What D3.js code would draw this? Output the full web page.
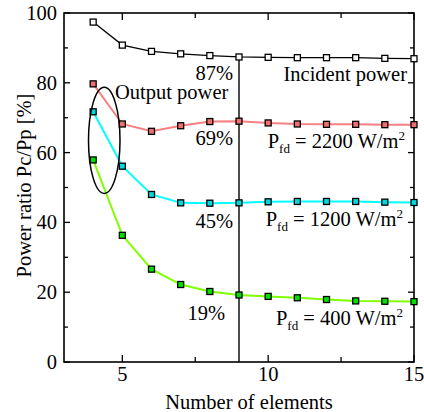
<!DOCTYPE html>
<html>
<head>
<meta charset="utf-8">
<script src="https://cdn.jsdelivr.net/npm/d3@7"></script>
<style>
body{margin:0;background:#fff;}
svg text{font-family:"Liberation Serif","Times New Roman",serif;fill:#000;}
</style>
</head>
<body>
<div id="chart"></div>
<script>
// number of elements
var elements=[4,5,6,7,8,9,10,11,12,13,14,15];
// power ratio Pc/Pp [%]
var incident=[97.4,90.8,89.0,88.3,87.8,87.4,87.3,87.2,87.2,87.2,87.0,86.9];
var p2200=[79.7,68.2,66.1,67.7,68.9,69.0,68.5,68.2,68.1,68.1,68.0,68.0];
var p1200=[71.7,56.1,48.0,45.6,45.5,45.6,45.9,46.0,46.0,46.0,45.8,45.7];
var p400=[57.9,36.3,26.6,22.2,20.2,19.2,18.8,18.4,17.9,17.5,17.4,17.3];
var xTicks=[5,10,15];
var xMinor=[7.5,12.5];
var yTicks=[0,20,40,60,80,100];
var yMinor=[10,30,50,70,90];
var markAt=9;   // vertical marker line
var pctLabels=["87%","69%","45%","19%"];

var W=424,H=412;
var padL=64,padR=414,padT=13,padB=362;
var fs=20.5;

var svg=d3.select("#chart").append("svg")
          .attr("width",W)
          .attr("height",H);

var x=d3.scaleLinear().domain([3,15]).range([padL,padR]);
var y=d3.scaleLinear().domain([0,100]).range([padB,padT]);

function drawTicks(){
	var g=svg.append("g").attr("stroke","#000").attr("stroke-width",1.3);
	// bottom / top
	xTicks.forEach(function(t){
		g.append("line").attr("x1",x(t)).attr("x2",x(t)).attr("y1",padB).attr("y2",padB-7);
		g.append("line").attr("x1",x(t)).attr("x2",x(t)).attr("y1",padT).attr("y2",padT+7);
	});
	xMinor.forEach(function(t){
		g.append("line").attr("x1",x(t)).attr("x2",x(t)).attr("y1",padB).attr("y2",padB-5);
		g.append("line").attr("x1",x(t)).attr("x2",x(t)).attr("y1",padT).attr("y2",padT+5);
	});
	// left / right
	yTicks.forEach(function(t){
		g.append("line").attr("y1",y(t)).attr("y2",y(t)).attr("x1",padL).attr("x2",padL+6);
		g.append("line").attr("y1",y(t)).attr("y2",y(t)).attr("x1",padR).attr("x2",padR-6);
	});
	yMinor.forEach(function(t){
		g.append("line").attr("y1",y(t)).attr("y2",y(t)).attr("x1",padL).attr("x2",padL+4);
		g.append("line").attr("y1",y(t)).attr("y2",y(t)).attr("x1",padR).attr("x2",padR-4);
	});
	svg.append("rect")
	   .attr("x",padL).attr("y",padT)
	   .attr("width",padR-padL).attr("height",padB-padT)
	   .attr("fill","none").attr("stroke","#000").attr("stroke-width",1.6);

	svg.selectAll(".xlab").data(xTicks).enter().append("text")
	   .attr("x",function(d){return x(d);})
	   .attr("y",padB+19)
	   .attr("text-anchor","middle")
	   .attr("font-size",fs)
	   .text(function(d){return d;});
	svg.selectAll(".ylab").data(yTicks).enter().append("text")
	   .attr("x",padL-7)
	   .attr("y",function(d){return y(d)+7;})
	   .attr("text-anchor","end")
	   .attr("font-size",fs)
	   .text(function(d){return d;});

	svg.append("text")
	   .attr("x",(padL+padR)/2+10)
	   .attr("y",409)
	   .attr("text-anchor","middle")
	   .attr("font-size",fs)
	   .text("Number of elements");
	svg.append("text")
	   .attr("transform","translate(31,"+((padT+padB)/2-2)+") rotate(-90)")
	   .attr("text-anchor","middle")
	   .attr("font-size",fs)
	   .text("Power ratio Pc/Pp [%]");
}

function drawSeries(vals,lineColor,lineWidth,fill){
	var pts=elements.map(function(e,i){return {x:e,y:vals[i]};});
	var line=d3.line()
	           .x(function(d){return x(d.x);})
	           .y(function(d){return y(d.y);});
	svg.append("path")
	   .attr("d",line(pts))
	   .attr("fill","none")
	   .attr("stroke",lineColor)
	   .attr("stroke-width",lineWidth);
	svg.append("g").selectAll("rect")
	   .data(pts)
	   .enter()
	   .append("rect")
	   .attr("x",function(d){return x(d.x)-3;})
	   .attr("y",function(d){return y(d.y)-3;})
	   .attr("width",6)
	   .attr("height",6)
	   .attr("fill",fill)
	   .attr("stroke","#000")
	   .attr("stroke-width",1.3);
}

function label(xp,yp,anchor,parts){
	var t=svg.append("text")
	         .attr("x",xp).attr("y",yp)
	         .attr("text-anchor",anchor)
	         .attr("font-size",fs);
	parts.forEach(function(p){
		t.append("tspan")
		 .attr("font-size",p.s||fs)
		 .attr("dy",p.dy||0)
		 .text(p.t);
	});
}

drawTicks();

// marker line at 9 elements
svg.append("line")
   .attr("x1",x(markAt)).attr("x2",x(markAt))
   .attr("y1",y(incident[elements.indexOf(markAt)])).attr("y2",y(0))
   .attr("stroke","#000").attr("stroke-width",1.4);

drawSeries(incident,"#000",1.3,"#fff");
drawSeries(p2200,"#f88080",2,"#f07070");
drawSeries(p1200,"#00ffff",2,"#00d8e0");
drawSeries(p400,"#80ff00",2,"#00e000");

// ellipse round the 4-element output points
svg.append("ellipse")
   .attr("cx",x(4.38)).attr("cy",y(63.5))
   .attr("rx",x(4.38)-x(3.84)).attr("ry",y(48.3)-y(63.5))
   .attr("fill","none").attr("stroke","#000").attr("stroke-width",1.5);

var pctY=[80,145,228,320];
var pctX=[233,233,233,225];
pctLabels.forEach(function(p,i){
	label(pctX[i],pctY[i],"end",[{t:p}]);
});
label(115,99,"start",[{t:"Output power"}]);
label(407,81,"end",[{t:"Incident power"}]);
label(405,148,"end",[{t:"P"},{t:"fd",s:13,dy:5},{t:" = 2200 W/m",dy:-5},{t:"2",s:13,dy:-8}]);
label(403,226,"end",[{t:"P"},{t:"fd",s:13,dy:5},{t:" = 1200 W/m",dy:-5},{t:"2",s:13,dy:-8}]);
label(403,325,"end",[{t:"P"},{t:"fd",s:13,dy:5},{t:" = 400 W/m",dy:-5},{t:"2",s:13,dy:-8}]);
</script>
</body>
</html>
